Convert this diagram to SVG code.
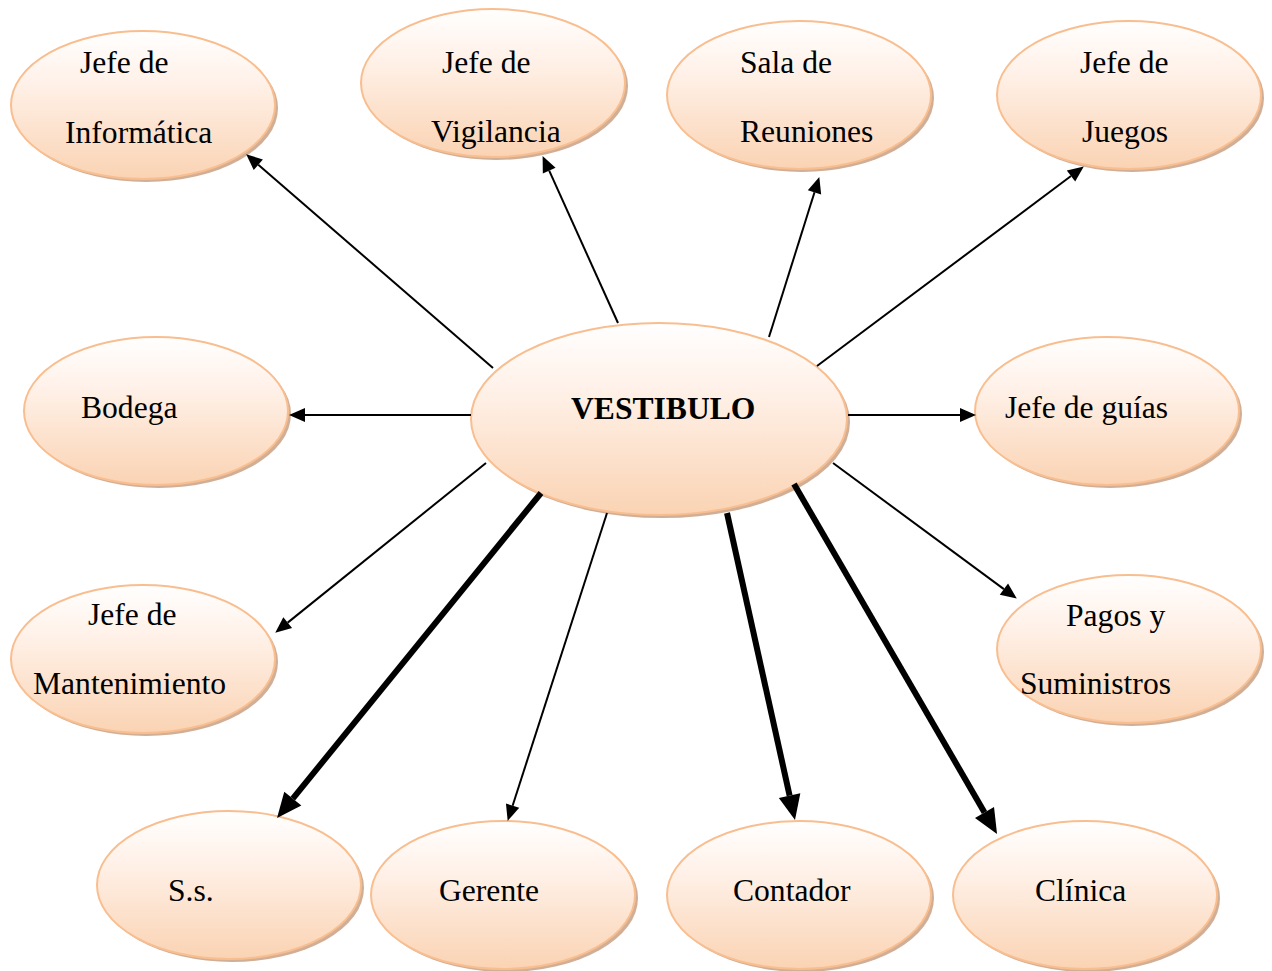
<svg xmlns="http://www.w3.org/2000/svg" width="1272" height="971" viewBox="0 0 1272 971">
<defs>
<linearGradient id="g" x1="0" y1="0" x2="0" y2="1">
<stop offset="0" stop-color="#ffffff"/>
<stop offset="0.35" stop-color="#fff1e8"/>
<stop offset="1" stop-color="#fad3b3"/>
</linearGradient>
<marker id="a" markerUnits="userSpaceOnUse" markerWidth="17" markerHeight="15" refX="0" refY="7" orient="auto" overflow="visible">
<path d="M0,0 L16,7 L0,14 Z" fill="#000"/>
</marker>
<marker id="b" markerUnits="userSpaceOnUse" markerWidth="26" markerHeight="24" refX="0" refY="11" orient="auto" overflow="visible">
<path d="M0,0 L25,11 L0,22 Z" fill="#000"/>
</marker>
</defs>
<style>
.sh{fill:#c9a084;opacity:0.85}
.el{fill:url(#g);stroke:#f9be8f;stroke-width:2}
text{font-family:"Liberation Serif","Times New Roman",serif;font-size:31.6px;fill:#000}
.bold{font-weight:bold}
.t{stroke:#000;stroke-width:2;fill:none;marker-end:url(#a)}
.k{stroke:#000;stroke-width:6;fill:none;marker-end:url(#b)}
</style>
<g id="n-informatica"><ellipse class="sh" cx="146" cy="108" rx="132" ry="74"/><ellipse class="el" cx="143" cy="105" rx="132" ry="74"/><text x="80" y="73">Jefe de</text><text x="65" y="143">Informática</text></g>
<g id="n-vigilancia"><ellipse class="sh" cx="496" cy="86" rx="132" ry="74"/><ellipse class="el" cx="493" cy="83" rx="132" ry="74"/><text x="442" y="73">Jefe de</text><text x="431" y="142">Vigilancia</text></g>
<g id="n-sala"><ellipse class="sh" cx="802" cy="98" rx="132" ry="74"/><ellipse class="el" cx="799" cy="95" rx="132" ry="74"/><text x="740" y="73">Sala de</text><text x="740" y="142">Reuniones</text></g>
<g id="n-juegos"><ellipse class="sh" cx="1132" cy="98" rx="132" ry="74"/><ellipse class="el" cx="1129" cy="95" rx="132" ry="74"/><text x="1080" y="73">Jefe de</text><text x="1082" y="142">Juegos</text></g>
<g id="n-bodega"><ellipse class="sh" cx="159" cy="414" rx="132" ry="74"/><ellipse class="el" cx="156" cy="411" rx="132" ry="74"/><text x="81" y="418">Bodega</text></g>
<g id="n-vestibulo"><ellipse class="sh" cx="662" cy="422" rx="188" ry="96"/><ellipse class="el" cx="659" cy="419" rx="188" ry="96"/><text class="bold" x="571" y="419">VESTIBULO</text></g>
<g id="n-guias"><ellipse class="sh" cx="1110" cy="414" rx="132" ry="74"/><ellipse class="el" cx="1107" cy="411" rx="132" ry="74"/><text x="1005" y="418">Jefe de guías</text></g>
<g id="n-mantenimiento"><ellipse class="sh" cx="146" cy="662" rx="132" ry="74"/><ellipse class="el" cx="143" cy="659" rx="132" ry="74"/><text x="88" y="625">Jefe de</text><text x="33" y="694">Mantenimiento</text></g>
<g id="n-pagos"><ellipse class="sh" cx="1132" cy="652" rx="132" ry="74"/><ellipse class="el" cx="1129" cy="649" rx="132" ry="74"/><text x="1066" y="626">Pagos y</text><text x="1020" y="694">Suministros</text></g>
<g id="n-ss"><ellipse class="sh" cx="232" cy="888" rx="132" ry="74"/><ellipse class="el" cx="229" cy="885" rx="132" ry="74"/><text x="168" y="901">S.s.</text></g>
<g id="n-gerente"><ellipse class="sh" cx="506" cy="898" rx="132" ry="74"/><ellipse class="el" cx="503" cy="895" rx="132" ry="74"/><text x="439" y="901">Gerente</text></g>
<g id="n-contador"><ellipse class="sh" cx="802" cy="898" rx="132" ry="74"/><ellipse class="el" cx="799" cy="895" rx="132" ry="74"/><text x="733" y="901">Contador</text></g>
<g id="n-clinica"><ellipse class="sh" cx="1088" cy="898" rx="132" ry="74"/><ellipse class="el" cx="1085" cy="895" rx="132" ry="74"/><text x="1035" y="901">Clínica</text></g>
<g id="connectors">
<line class="t" x1="493" y1="368" x2="258.3" y2="164.8"/>
<line class="t" x1="618" y1="323" x2="549.2" y2="170.7"/>
<line class="t" x1="769" y1="337" x2="814.5" y2="192.3"/>
<line class="t" x1="817" y1="366" x2="1071" y2="176"/>
<line class="t" x1="471" y1="415" x2="305" y2="415"/>
<line class="t" x1="848" y1="415" x2="960" y2="415"/>
<line class="t" x1="486" y1="463" x2="287.7" y2="622.6"/>
<line class="t" x1="833" y1="463" x2="1003.9" y2="589.1"/>
<line class="k" x1="541" y1="493" x2="292.8" y2="798.6"/>
<line class="t" x1="607" y1="513" x2="512.6" y2="805.7"/>
<line class="k" x1="727" y1="513" x2="789.6" y2="795.6"/>
<line class="k" x1="794" y1="484" x2="984.5" y2="812.4"/>
</g>
</svg>
